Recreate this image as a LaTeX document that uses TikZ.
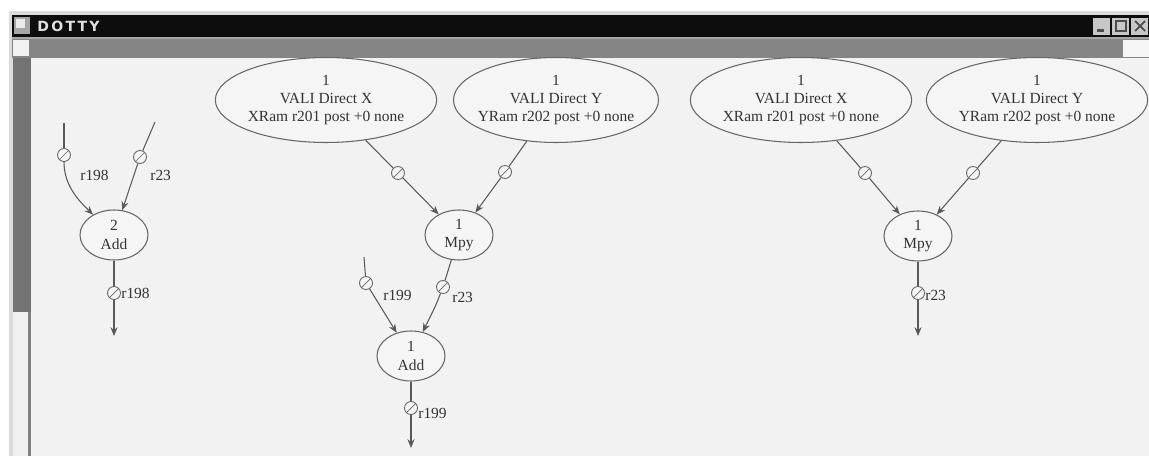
\documentclass[tikz,border=0pt]{standalone}
\usepackage{fontspec}
\setmainfont{Liberation Serif}
\newfontfamily\titlefont{DejaVu Sans}
\usetikzlibrary{shapes.geometric,arrows.meta}

\begin{document}
\begin{tikzpicture}[x=0.02cm,y=-0.02cm,
    >={Stealth[length=5pt,width=4pt]},
    every node/.style={font=\fontsize{8.8}{10.5}\selectfont,text=black!80},
    val/.style={ellipse,draw=black!60,line width=0.6pt,fill=black!4,
        minimum width=4.36cm,minimum height=1.7cm,inner sep=0pt,align=center},
    op/.style={ellipse,draw=black!60,line width=0.6pt,fill=black!4,
        minimum width=1.36cm,minimum height=1.0cm,inner sep=0pt,align=center},
    port/.style={circle,draw=black!60,fill=black!4,line width=0.5pt,
        minimum size=0.26cm,inner sep=0pt,
        path picture={\draw[black!60,line width=0.4pt]
            (path picture bounding box.south west) -- (path picture bounding box.north east);}},
    wire/.style={draw=black!65,line width=0.6pt},
    lbl/.style={anchor=west,inner sep=0pt}]
    \useasboundingbox (0,0) rectangle (1149,456);
    \fill[white] (0,0) rectangle (1149,456);

    % Window frame and title bar
    \fill[black!14] (9,11) rectangle (1149,456);
    \fill[black!95] (12,15) rectangle (1149,37);
    \fill[black!35] (14,17) rectangle (30,34);
    \fill[black!8] (16,19) rectangle (25,28);
    \node[anchor=west,inner sep=0pt,text=black!12,
        font=\titlefont\bfseries\fontsize{8}{8}\selectfont] (title) at (37,26) {D\,O\,T\,T\,Y};
    \foreach \bx in {1093,1112,1131}
        \fill[black!22] (\bx,18) rectangle ++(17,17);
    \fill[black!70] (1097,29) rectangle (1104,32);
    \draw[black!70,line width=0.8pt] (1116,21) rectangle (1126,31);
    \draw[black!70,line width=1pt] (1135,21) -- (1145,31) (1135,31) -- (1145,21);

    % Scroll bars and canvas
    \fill[black!48] (12,37) rectangle (1149,58);
    \fill[black!35] (12,37) rectangle (1149,39);
    \fill[black!5] (13,40) rectangle (29,56);
    \fill[black!4] (1123,40) rectangle (1149,57);
    \fill[black!5] (31,58) rectangle (1149,456);
    \fill[black!55] (13,58) rectangle (31,312);
    \fill[black!6] (13,312) rectangle (28,456);
    \fill[black!50] (28,312) rectangle (31,456);

    % Operations
    \node[val] (vx1) at (326,100) {1\\VALI Direct X\\XRam r201 post +0 none};
    \node[val,minimum width=4.1cm,inner xsep=-3.5pt] (vy1) at (556,100) {1\\VALI Direct Y\\YRam r202 post +0 none};
    \node[val] (vx2) at (801,100) {1\\VALI Direct X\\XRam r201 post +0 none};
    \node[val] (vy2) at (1037,100) {1\\VALI Direct Y\\YRam r202 post +0 none};
    \node[op] (add2) at (114,235) {2\\Add};
    \node[op] (mpy1) at (459,235) {1\\Mpy};
    \node[op] (add1) at (411,356) {1\\Add};
    \node[op] (mpy2) at (918,236) {1\\Mpy};

    % Free ends
    \coordinate (in1) at (64,123);
    \coordinate (in2) at (155,122);
    \coordinate (in3) at (364,257);
    \coordinate (out1) at (114,336);
    \coordinate (out2) at (411,448);
    \coordinate (out3) at (918,336);

    % Registers on the edges
    \node[port] (pa1) at (64,155) {};
    \node[port] (pa2) at (140,157) {};
    \node[port] (pa3) at (114,293) {};
    \node[port] (pv1) at (398,173) {};
    \node[port] (pv2) at (505,172) {};
    \node[port] (pm1) at (443,287) {};
    \node[port] (pb1) at (366,283) {};
    \node[port] (pd1) at (411,408) {};
    \node[port] (pv3) at (865,173) {};
    \node[port] (pv4) at (973,173) {};
    \node[port] (pm2) at (918,293) {};

    % Edges
    \draw[wire] (in1) -- (pa1);
    \draw[wire,->] (pa1) .. controls (64,185) and (78,200) .. (add2);
    \draw[wire] (in2) -- (pa2);
    \draw[wire,->] (pa2) -- (add2);
    \draw[wire] (add2) -- (pa3);
    \draw[wire,->] (pa3) -- (out1);

    \draw[wire] (vx1) -- (pv1);
    \draw[wire,->] (pv1) -- (mpy1);
    \draw[wire] (vy1) -- (pv2);
    \draw[wire,->] (pv2) -- (mpy1);
    \draw[wire] (mpy1) -- (pm1);
    \draw[wire,->] (pm1) .. controls (436,305) .. (add1);
    \draw[wire] (in3) -- (pb1);
    \draw[wire,->] (pb1) -- (add1);
    \draw[wire] (add1) -- (pd1);
    \draw[wire,->] (pd1) -- (out2);

    \draw[wire] (vx2) -- (pv3);
    \draw[wire,->] (pv3) -- (mpy2);
    \draw[wire] (vy2) -- (pv4);
    \draw[wire,->] (pv4) -- (mpy2);
    \draw[wire] (mpy2) -- (pm2);
    \draw[wire,->] (pm2) -- (out3);

    % Register names
    \node[lbl] (la1) at (80,175) {r198};
    \node[lbl] (la2) at (150,175) {r23};
    \node[lbl] (la3) at (121,293) {r198};
    \node[lbl] (lb1) at (383,295) {r199};
    \node[lbl] (lm1) at (452,297) {r23};
    \node[lbl] (ld1) at (418,413) {r199};
    \node[lbl] (lm2) at (925,295) {r23};
\end{tikzpicture}
\end{document}
